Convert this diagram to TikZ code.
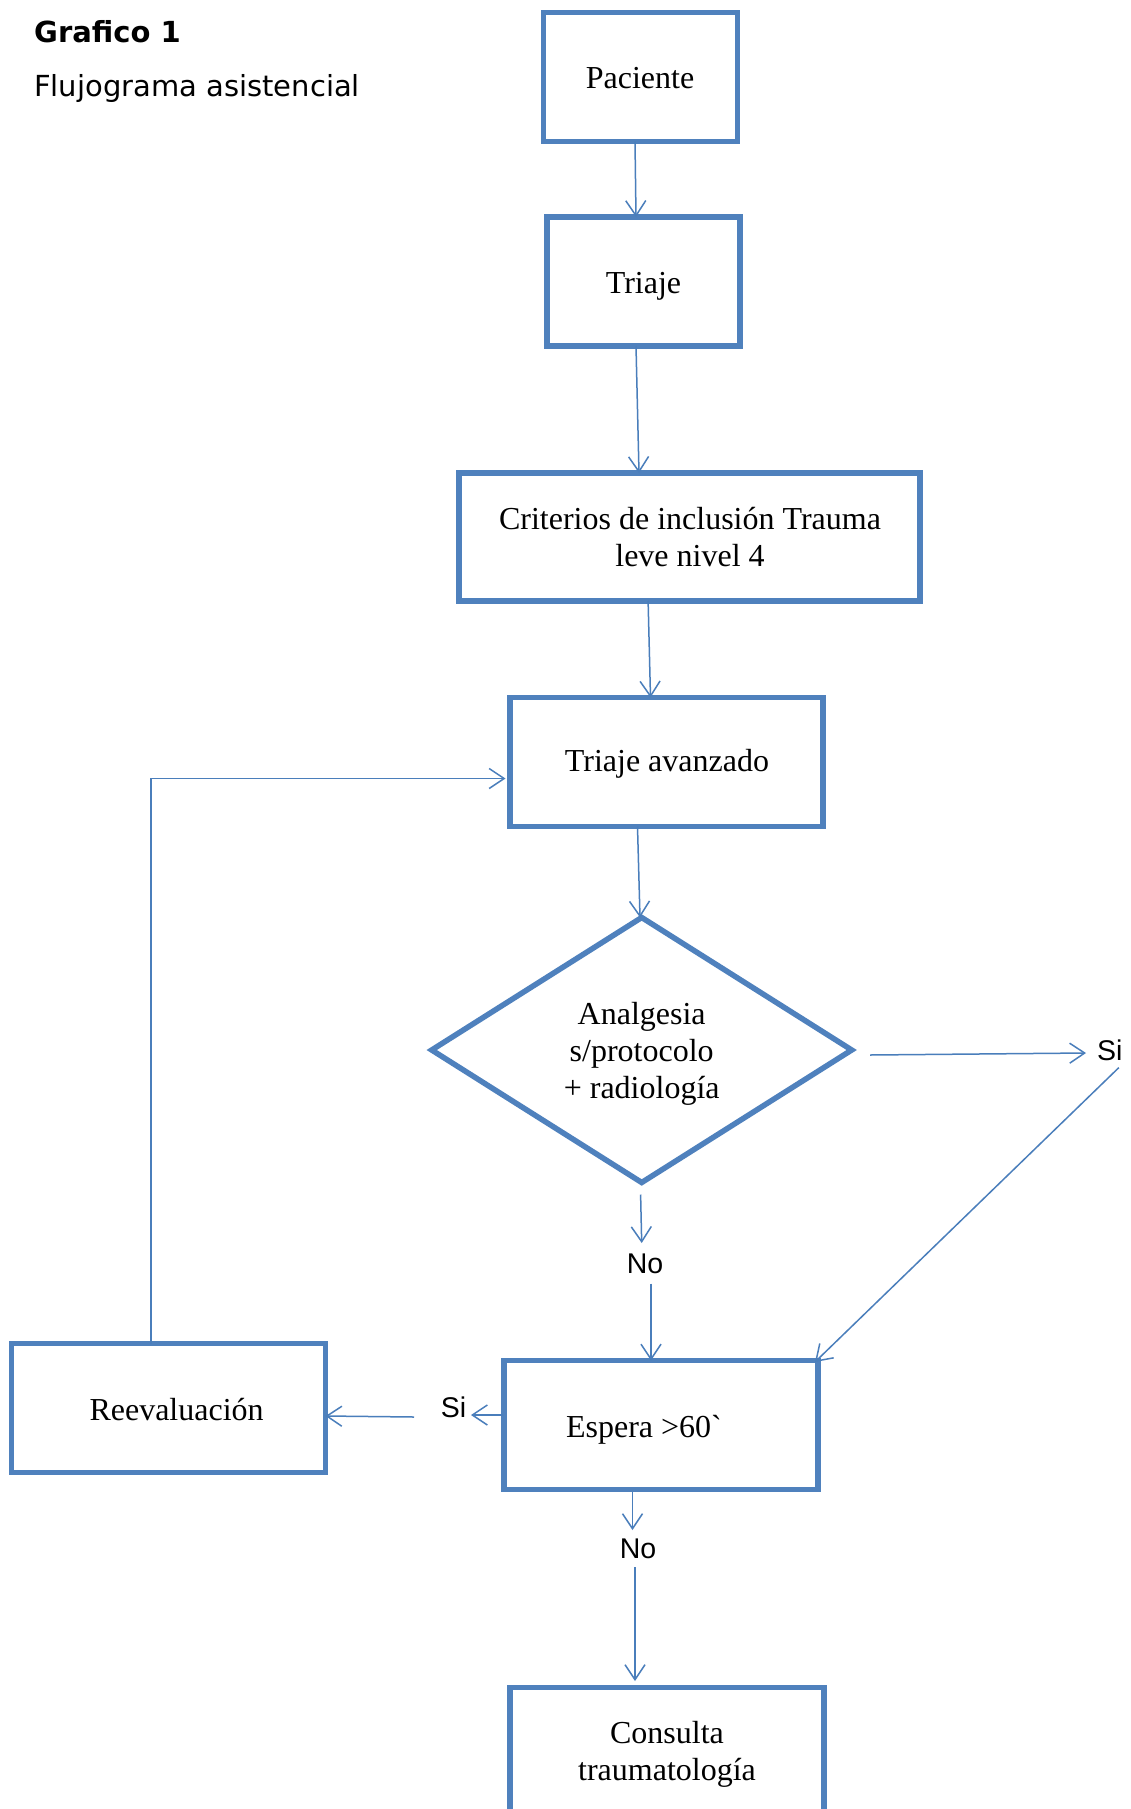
\documentclass[tikz,border=0pt]{standalone}
\usepackage{fontspec}
\setmainfont{Liberation Serif}
\newfontfamily\arialfam{Liberation Sans}
\newfontfamily\verdfam{DejaVu Sans}
\usetikzlibrary{arrows.meta,shapes.geometric}
\definecolor{boxblue}{HTML}{4F81BD}
\definecolor{lineblue}{HTML}{4A7EBB}
\begin{document}
\begin{tikzpicture}[x=1pt,y=-1pt,
  box/.style={draw=boxblue, line width=5.5pt, rectangle, inner sep=0pt, outer sep=0pt},
  decision/.style={draw=boxblue, line width=5.5pt, diamond, inner sep=0pt, outer sep=0pt},
  txt/.style={font=\fontsize{32}{37.5}\selectfont, align=center, inner sep=0pt, anchor=base},
  yn/.style={font=\arialfam\fontsize{28.5}{30}\selectfont, inner sep=0pt, anchor=base},
  conn/.style={draw=lineblue, line width=1.5pt, -{Straight Barb[length=15pt,width=20pt]}}]
\useasboundingbox (0,0) rectangle (1130,1809);
\clip (0,0) rectangle (1130,1809);
\fill[white] (0,0) rectangle (1130,1809);

% titles
\node[anchor=base west, inner sep=0pt, font=\verdfam\bfseries\fontsize{29}{30}\selectfont] (ttl) at (34,42.7) {Grafico 1};
\node[anchor=base west, inner sep=0pt, font=\verdfam\fontsize{29}{30}\selectfont] (sub) at (34,96.7) {Flujograma asistencial};

% boxes (multi-line text: base anchor = last line baseline)
\node[box, minimum width=194pt, minimum height=129pt] (pac) at (640.5,77) {};
\node[txt] (pacT) at (640,88.3) {Paciente};
\node[box, minimum width=193pt, minimum height=129pt] (tri) at (643.5,281.5) {};
\node[txt] (triT) at (643.5,293.3) {Triaje};
\node[box, minimum width=461pt, minimum height=128pt] (cri) at (689.5,537) {};
\node[txt] (criT) at (690,566.7) {Criterios de inclusión Trauma\\leve nivel 4};
\node[box, minimum width=313pt, minimum height=129pt] (tav) at (666.5,762) {};
\node[txt] (tavT) at (667,771.7) {Triaje avanzado};
\node[decision, minimum width=420pt, minimum height=265pt] (dia) at (641.7,1050) {};
\node[txt, font=\fontsize{32}{36.7}\selectfont] (diaT) at (641.7,1098.3) {Analgesia\\s/protocolo\\+ radiología};
\node[box, minimum width=314pt, minimum height=129pt] (esp) at (661,1425) {};
\node[txt] (espT) at (644,1437) {Espera >60\textasciigrave};
\node[box, minimum width=314pt, minimum height=129pt] (ree) at (168.5,1408) {};
\node[txt] (reeT) at (176.6,1420) {Reevaluación};
\node[box, minimum width=314pt, minimum height=160pt] (con) at (667,1767.5) {};
\node[txt] (conT) at (667,1780.5) {Consulta\\traumatología};

% yes / no labels
\node[yn, anchor=base west] (siR) at (1097,1060) {Si};
\node[yn] (noA) at (645,1273) {No};
\node[yn] (siL) at (453.6,1417) {Si};
\node[yn] (noB) at (638,1558) {No};

% connectors
\draw[conn] ([xshift=-5.5pt]pac.south) -- ([xshift=-7.5pt]tri.north);
\draw[conn] ([xshift=-7.5pt]tri.south) -- ([xshift=-50.5pt]cri.north);
\draw[conn] ([xshift=-41.4pt]cri.south) -- ([xshift=-16pt]tav.north);
\draw[conn] ([xshift=-29pt]tav.south) -- ([xshift=-1.7pt]dia.north);
\draw[conn] ([xshift=18.3pt,yshift=-5pt]dia.east) -- ([xshift=-11pt,yshift=7pt]siR.base west);
\draw[conn] ([xshift=-3.9pt,yshift=-7.6pt]siR.base east) -- ([xshift=-3pt,yshift=-1.5pt]esp.north east);
\draw[conn] ([xshift=-1.1pt,yshift=-12pt]dia.south) -- ([xshift=-3.3pt,yshift=30pt]noA.base);
\draw[conn] ([xshift=6pt,yshift=-10.5pt]noA.base) -- ([xshift=-10pt]esp.north);
\draw[conn] ([xshift=-1pt,yshift=10pt]esp.west) -- ([xshift=17.4pt,yshift=2pt]siL.base);
\draw[conn] ([xshift=-39.6pt]siL.base) -- ([yshift=-8pt]ree.east);
\draw[conn] ([xshift=-17.5pt]ree.north) |- ([xshift=-4.5pt,yshift=-16.5pt]tav.west);
\draw[conn] ([xshift=-28.5pt,yshift=-2.5pt]esp.south) -- ([xshift=-5.5pt,yshift=28pt]noB.base);
\draw[conn] ([xshift=-3pt,yshift=-9.4pt]noB.base) -- ([xshift=-32pt,yshift=6.5pt]con.north);
\end{tikzpicture}
\end{document}
